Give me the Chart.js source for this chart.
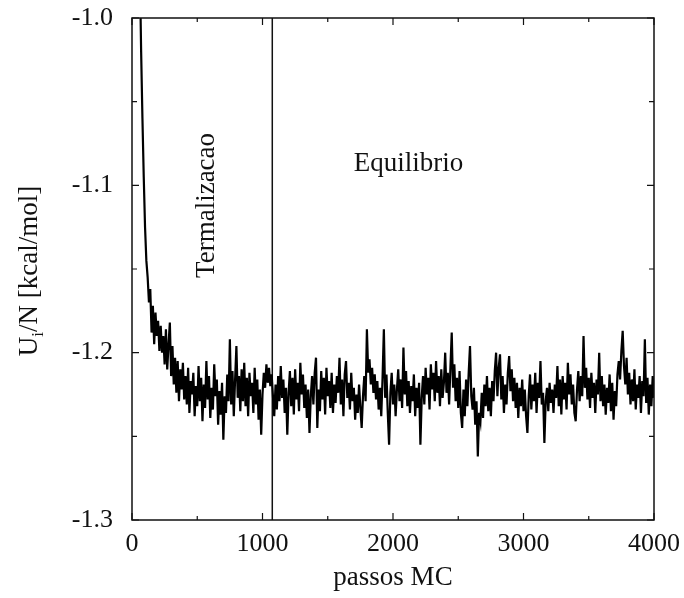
<!DOCTYPE html>
<html>
<head>
<meta charset="utf-8">
<script src="https://cdn.jsdelivr.net/npm/chart.js@4/dist/chart.umd.min.js"></script>
<style>
  html, body { margin: 0; padding: 0; background: #fff; }
  #wrap { width: 684px; height: 598px; }
</style>
</head>
<body>
<div id="wrap"><canvas id="energy-chart" width="684" height="598"></canvas></div>
<script>
const canvasElement = document.getElementById("energy-chart");

// energy per particle, one reading every 10 MC steps (0 .. 4000)
const stepInterval = 10;
const energy = [
  -0.80, -0.84, -0.87, -0.90, -0.93, -0.955, -0.97, -1.02, -1.06, -1.095,
  -1.125, -1.145, -1.155, -1.17, -1.162, -1.188, -1.172, -1.195, -1.176, -1.19,
  -1.181, -1.199, -1.184, -1.2, -1.19, -1.207, -1.186, -1.21, -1.195, -1.182,
  -1.214, -1.196, -1.219, -1.203, -1.224, -1.205, -1.229, -1.21, -1.222, -1.206,
  -1.228, -1.214, -1.231, -1.209, -1.236, -1.217, -1.225, -1.212, -1.238, -1.22,
  -1.232, -1.208, -1.229, -1.215, -1.241, -1.219, -1.233, -1.205, -1.228, -1.214,
  -1.239, -1.221, -1.234, -1.207, -1.226, -1.216, -1.243, -1.223, -1.237, -1.218,
  -1.252, -1.226, -1.236, -1.213, -1.229, -1.192, -1.231, -1.211, -1.238, -1.216,
  -1.196, -1.227, -1.214, -1.235, -1.21, -1.229, -1.206, -1.232, -1.215, -1.238,
  -1.212, -1.226, -1.218, -1.236, -1.209, -1.231, -1.216, -1.24, -1.222, -1.249,
  -1.225, -1.212, -1.221, -1.207, -1.218, -1.209, -1.22, -1.213, -1.226, -1.238,
  -1.219, -1.234, -1.214, -1.229, -1.208, -1.227, -1.216, -1.236, -1.221, -1.249,
  -1.224, -1.211, -1.232, -1.215, -1.237, -1.21, -1.228, -1.218, -1.235, -1.206,
  -1.225, -1.213, -1.233, -1.219, -1.239, -1.222, -1.248, -1.226, -1.214, -1.231,
  -1.212, -1.203, -1.245, -1.222, -1.235, -1.211, -1.228, -1.215, -1.237, -1.209,
  -1.226, -1.217, -1.233, -1.212, -1.236, -1.219, -1.23, -1.214, -1.224, -1.203,
  -1.231, -1.216, -1.238, -1.213, -1.205, -1.227, -1.218, -1.234, -1.212, -1.229,
  -1.221, -1.24, -1.225, -1.236, -1.219, -1.233, -1.245, -1.226, -1.214, -1.229,
  -1.186, -1.212, -1.204, -1.219, -1.209, -1.224, -1.213, -1.228, -1.217, -1.234,
  -1.221, -1.238, -1.215, -1.186, -1.227, -1.213, -1.236, -1.255, -1.224, -1.212,
  -1.231, -1.219, -1.238, -1.222, -1.21, -1.229, -1.216, -1.233, -1.197, -1.225,
  -1.211, -1.232, -1.217, -1.236, -1.22, -1.229, -1.213, -1.238, -1.221, -1.233,
  -1.218, -1.255, -1.227, -1.214, -1.231, -1.209, -1.225, -1.215, -1.234, -1.207,
  -1.222, -1.212, -1.229, -1.205, -1.224, -1.214, -1.232, -1.21, -1.227, -1.218,
  -1.2, -1.224, -1.212, -1.231, -1.209, -1.188, -1.221, -1.207, -1.229, -1.215,
  -1.233, -1.211, -1.236, -1.245, -1.222, -1.238, -1.216, -1.232, -1.212, -1.196,
  -1.226, -1.234, -1.221, -1.243, -1.229, -1.262, -1.236, -1.241, -1.224, -1.239,
  -1.219, -1.232, -1.214, -1.235, -1.221, -1.238, -1.217, -1.229, -1.211, -1.2,
  -1.226, -1.209, -1.201, -1.228, -1.214, -1.236, -1.219, -1.231, -1.212, -1.202,
  -1.223, -1.21, -1.229, -1.215, -1.233, -1.218, -1.239, -1.221, -1.232, -1.216,
  -1.235, -1.222, -1.238, -1.248, -1.226, -1.213, -1.234, -1.219, -1.229, -1.212,
  -1.236, -1.218, -1.227, -1.205, -1.231, -1.224, -1.254, -1.229, -1.221, -1.235,
  -1.218, -1.23, -1.222, -1.236, -1.219, -1.227, -1.208, -1.232, -1.216, -1.237,
  -1.214, -1.228, -1.218, -1.234, -1.206, -1.225, -1.213, -1.231, -1.219, -1.236,
  -1.241, -1.222, -1.211, -1.229, -1.214, -1.226, -1.19, -1.221, -1.209, -1.228,
  -1.215, -1.233, -1.212, -1.227, -1.218, -1.236, -1.216, -1.225, -1.2, -1.229,
  -1.214, -1.232, -1.219, -1.237, -1.221, -1.23, -1.213, -1.235, -1.218, -1.24,
  -1.223, -1.232, -1.213, -1.205, -1.216, -1.199, -1.187, -1.208, -1.219, -1.203,
  -1.225, -1.212, -1.231, -1.216, -1.229, -1.21, -1.234, -1.219, -1.227, -1.214,
  -1.236, -1.217, -1.226, -1.192, -1.23, -1.215, -1.237, -1.219, -1.232, -1.214,
  -1.227
];
const steps = energy.map((_, i) => i * stepInterval);

const splitStep = 1075; // end of thermalization
const xTicks = [0, 1000, 2000, 3000, 4000];
const xMinorTicks = [500, 1500, 2500, 3500];
const yTicks = [-1.0, -1.1, -1.2, -1.3];
const yMinorTicks = [-1.05, -1.15, -1.25];
const regionLabels = ["Termalizacao", "Equilibrio"];

const serif = "'Liberation Serif', 'Times New Roman', serif";

// frame, inward tick marks, y title with subscript and region labels
const decorations = {
    id: "decorations",
    afterDraw(chart) {
        const {ctx, chartArea: a, scales: {x, y}} = chart;
        ctx.save();
        ctx.strokeStyle = "#111";
        ctx.lineWidth = 1.5;
        ctx.strokeRect(a.left, a.top, a.right - a.left, a.bottom - a.top);

        ctx.lineWidth = 1.2;
        ctx.beginPath();
        const xMark = (v, len) => {
            const px = x.getPixelForValue(v);
            ctx.moveTo(px, a.bottom); ctx.lineTo(px, a.bottom - len);
            ctx.moveTo(px, a.top); ctx.lineTo(px, a.top + len);
        };
        const yMark = (v, len) => {
            const py = y.getPixelForValue(v);
            ctx.moveTo(a.left, py); ctx.lineTo(a.left + len, py);
            ctx.moveTo(a.right, py); ctx.lineTo(a.right - len, py);
        };
        xTicks.forEach(v => xMark(v, 7));
        xMinorTicks.forEach(v => xMark(v, 4));
        yTicks.forEach(v => yMark(v, 7));
        yMinorTicks.forEach(v => yMark(v, 5));
        ctx.stroke();

        ctx.fillStyle = "#111";
        ctx.textBaseline = "middle";

        // y axis title: U_i/N [kcal/mol]
        ctx.save();
        ctx.translate(30, (a.top + a.bottom) / 2 + 2);
        ctx.rotate(-Math.PI / 2);
        const big = "27px " + serif, small = "17px " + serif;
        ctx.font = big;
        const wU = ctx.measureText("U").width;
        const wRest = ctx.measureText("/N [kcal/mol]").width;
        ctx.font = small;
        const wI = ctx.measureText("i").width;
        let cx = -(wU + wI + wRest) / 2;
        ctx.textAlign = "left";
        ctx.font = big;
        ctx.fillText("U", cx, 0);
        cx += wU;
        ctx.font = small;
        ctx.fillText("i", cx, 9);
        cx += wI;
        ctx.font = big;
        ctx.fillText("/N [kcal/mol]", cx, 0);
        ctx.restore();

        // region labels
        ctx.font = "27px " + serif;
        ctx.textAlign = "center";
        ctx.save();
        ctx.translate(x.getPixelForValue(575), y.getPixelForValue(-1.112));
        ctx.rotate(-Math.PI / 2);
        ctx.fillText(regionLabels[0], 0, 0);
        ctx.restore();
        ctx.fillText(regionLabels[1], x.getPixelForValue(2118), y.getPixelForValue(-1.087));
        ctx.restore();
    }
};

const data = {
    datasets: [{
        label: "Ui/N",
        data: steps.map((s, i) => ({x: s, y: energy[i]})),
        borderColor: "#000",
        borderWidth: 2.2,
        pointRadius: 0,
        tension: 0,
        clip: 0
    }, {
        label: "split",
        data: [{x: splitStep, y: -1.0}, {x: splitStep, y: -1.3}],
        borderColor: "#111",
        borderWidth: 1.5,
        pointRadius: 0,
        clip: 0
    }]
};

const config = {
    type: "line",
    data: data,
    options: {
        responsive: false,
        animation: false,
        devicePixelRatio: 1,
        layout: {padding: {top: 18, right: 30, left: 0, bottom: 0}},
        plugins: {
            legend: {display: false},
            tooltip: {enabled: false}
        },
        scales: {
            x: {
                type: "linear",
                min: 0,
                max: 4000,
                grid: {display: false, drawTicks: false, tickLength: 0},
                border: {display: false},
                afterBuildTicks: (scale) => { scale.ticks = xTicks.map(v => ({value: v})); },
                afterFit: (scale) => {
                    scale.height = 78;
                    scale.paddingLeft = 0;
                    scale.paddingRight = 0;
                },
                ticks: {
                    padding: 9,
                    color: "#111",
                    font: {family: serif, size: 26},
                    maxRotation: 0,
                    callback: (v) => String(v)
                },
                title: {
                    display: true,
                    text: "passos MC",
                    color: "#111",
                    font: {family: serif, size: 27},
                    padding: {top: 0, bottom: 4}
                }
            },
            y: {
                min: -1.3,
                max: -1.0,
                grid: {display: false, drawTicks: false, tickLength: 0},
                border: {display: false},
                afterBuildTicks: (scale) => { scale.ticks = yTicks.map(v => ({value: v})); },
                afterFit: (scale) => {
                    scale.width = 132;
                    scale.paddingTop = 0;
                    scale.paddingBottom = 0;
                },
                ticks: {
                    padding: 19,
                    color: "#111",
                    font: {family: serif, size: 26},
                    callback: (v) => Number(v).toFixed(1)
                }
            }
        }
    },
    plugins: [decorations]
};

const energyChart = new Chart(canvasElement, config);
</script>
</body>
</html>
